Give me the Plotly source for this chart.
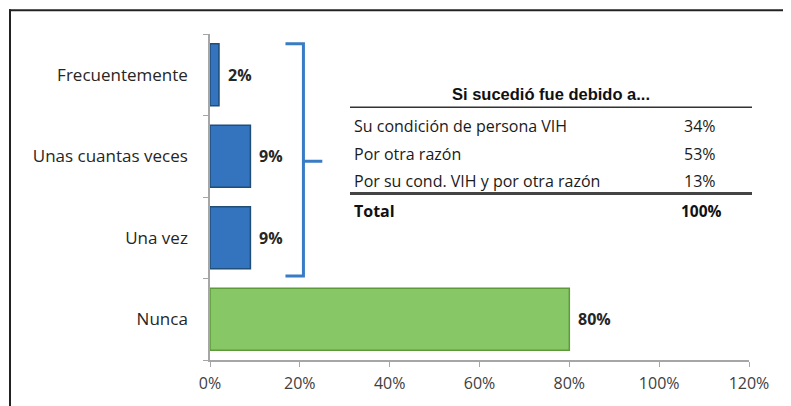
import plotly.graph_objects as go

categories = ["Nunca", "Una vez", "Unas cuantas veces", "Frecuentemente"]
values = [80, 9, 9, 2]
bar_colors = ["#88C766", "#3473BD", "#3473BD", "#3473BD"]
border_colors = ["#5E9A3C", "#1F4E79", "#1F4E79", "#1F4E79"]
x_ticks = [0, 20, 40, 60, 80, 100, 120]
x_ticklabels = ["0%", "20%", "40%", "60%", "80%", "100%", "120%"]

table_title = "Si sucedió fue debido a..."
table_rows = ["Su condición de persona VIH", "Por otra razón", "Por su cond. VIH y por otra razón"]
table_vals = ["34%", "53%", "13%"]
table_total_label = "Total"
table_total_val = "100%"

OFF = 8  # page body margin
W, H = 791 - OFF, 406 - OFF
L, R, T, B = 210 - OFF, 42, 34 - OFF, 43
PW, PH = W - L - R, H - T - B

def px(xs):
    return (xs - OFF - L) / PW

def py(ys):
    return (H - B - (ys - OFF)) / PH

FONT = "Open Sans"

fig = go.Figure()
fig.add_trace(go.Bar(
    y=categories, x=values, orientation="h",
    marker=dict(color=bar_colors, line=dict(color=border_colors, width=1.5)),
    width=0.76, hoverinfo="skip", showlegend=False,
))

annotations = []
for c, v in zip(categories, values):
    annotations.append(dict(x=v, y=c, xref="x", yref="y", text=f"<b>{v}%</b>",
                            showarrow=False, xanchor="left", xshift=7,
                            font=dict(family=FONT, size=16, color="#262626")))

# table
annotations.append(dict(x=px(551), y=py(95), xref="paper", yref="paper", text=f"<b>{table_title}</b>",
                        showarrow=False, xanchor="center", yanchor="middle",
                        font=dict(family="Liberation Sans", size=16.5, color="#111")))
row_y = [127, 155, 182]
for ry, lab, val in zip(row_y, table_rows, table_vals):
    annotations.append(dict(x=px(352), y=py(ry), xref="paper", yref="paper", text=lab,
                            showarrow=False, xanchor="left", yanchor="middle",
                            font=dict(family=FONT, size=16, color="#1a1a1a")))
    annotations.append(dict(x=px(700), y=py(ry), xref="paper", yref="paper", text=val,
                            showarrow=False, xanchor="center", yanchor="middle",
                            font=dict(family=FONT, size=16, color="#1a1a1a")))
annotations.append(dict(x=px(352), y=py(213), xref="paper", yref="paper", text=f"<b>{table_total_label}</b>",
                        showarrow=False, xanchor="left", yanchor="middle",
                        font=dict(family=FONT, size=16, color="#111")))
annotations.append(dict(x=px(701), y=py(213), xref="paper", yref="paper", text=f"<b>{table_total_val}</b>",
                        showarrow=False, xanchor="center", yanchor="middle",
                        font=dict(family=FONT, size=15.5, color="#111")))

shapes = [
    # frame
    dict(type="line", xref="paper", yref="paper", x0=px(9), x1=px(800), y0=py(10), y1=py(10),
         line=dict(color="#222", width=2)),
    dict(type="line", xref="paper", yref="paper", x0=px(10), x1=px(10), y0=py(9), y1=py(420),
         line=dict(color="#222", width=2)),
    # table lines
    dict(type="line", xref="paper", yref="paper", x0=px(350), x1=px(752), y0=py(108), y1=py(108),
         line=dict(color="#333", width=1.5)),
    dict(type="line", xref="paper", yref="paper", x0=px(350), x1=px(752), y0=py(195), y1=py(195),
         line=dict(color="#444", width=3)),
    # bracket
    dict(type="path", xref="x", yref="y",
         path="M 16.8,3.38 L 20.8,3.38 L 20.8,0.53 L 16.8,0.53 M 20.8,1.94 L 25,1.94",
         line=dict(color="#3A7CC4", width=3)),
]

fig.update_layout(
    width=W, height=H, margin=dict(l=L, r=R, t=T, b=B),
    paper_bgcolor="white", plot_bgcolor="white",
    bargap=0.24,
    xaxis=dict(range=[0, 120], tickvals=x_ticks, ticktext=x_ticklabels, showgrid=False, zeroline=False,
               showline=True, linecolor="#A6A6A6", linewidth=1.5, ticks="outside", ticklen=5,
               tickcolor="#A6A6A6", ticklabelstandoff=3,
               tickfont=dict(family=FONT, size=16, color="#404040")),
    yaxis=dict(categoryorder="array", categoryarray=categories, showgrid=False, zeroline=False,
               showline=True, linecolor="#A6A6A6", linewidth=1.5, ticks="outside", ticklen=5,
               tickson="boundaries", tickcolor="#A6A6A6", ticklabelstandoff=17,
               tickfont=dict(family=FONT, size=17, color="#262626"), range=[-0.5, 3.5]),
    annotations=annotations, shapes=shapes,
)

fig.write_html("out.html")
